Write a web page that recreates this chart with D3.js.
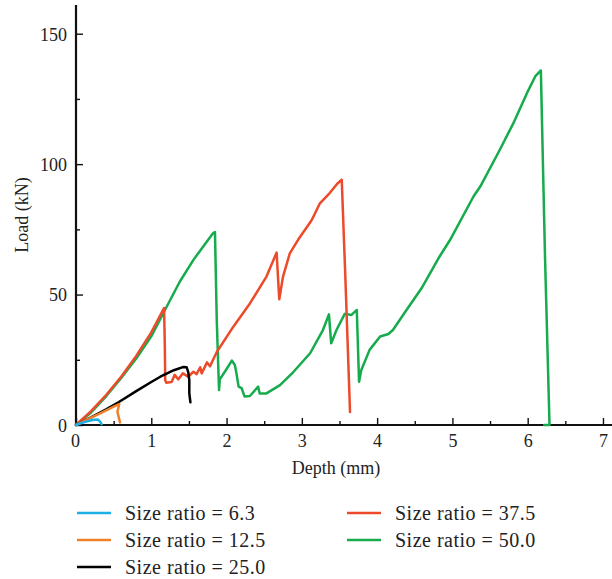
<!DOCTYPE html>
<html><head>
<meta charset="utf-8">
<script src="https://d3js.org/d3.v7.min.js"></script>
<style>
  body { margin: 0; background: #fff; }
  text { font-family: "Liberation Serif", "DejaVu Serif", serif; fill: #222; }
</style>
</head>
<body>
<script>

  // series, [depth mm, load kN]
  var ratio63 = [[0,0],[0.08,0.8],[0.16,1.5],[0.24,2.0],[0.29,2.1],[0.32,1.3],[0.34,0.3]];
  var ratio125 = [[0,0],[0.1,1.4],[0.2,2.8],[0.3,4.2],[0.4,5.6],[0.5,7.0],[0.575,8.0],[0.55,5.1],[0.584,1.0]];
  var ratio250 = [[0,0],[0.2,2.9],[0.4,6.0],[0.57,8.8],[0.8,13],[1.0,16.5],[1.12,18.5],[1.3,21],[1.42,22.2],[1.47,22.1],
                  [1.49,20.4],[1.505,17.2],[1.505,12.1],[1.52,8.7]];
  var ratio375 = [[0,0],[0.2,5.3],[0.4,11.5],[0.6,18.5],[0.8,26.5],[1.0,35.5],[1.17,44.8],[1.18,30],[1.185,17.2],[1.2,16.2],
                  [1.27,16.5],[1.31,19.2],[1.36,17.5],[1.42,19.8],[1.49,18.5],[1.56,20.4],[1.60,19.5],[1.65,22.1],[1.67,19.8],
                  [1.74,24],[1.78,22.5],[1.87,28],[2.09,37.7],[2.31,46.6],[2.53,56.9],[2.665,66.1],[2.70,48.2],[2.75,56.9],
                  [2.84,65.8],[2.95,71],[3.13,78.5],[3.24,85],[3.37,88.9],[3.47,92.5],[3.53,94],[3.58,55],[3.64,5]];
  var ratio500 = [[0,0],[0.2,4.8],[0.4,11],[0.6,18],[0.8,25.5],[1.0,34],[1.18,44],[1.38,55],[1.56,63.3],[1.69,68.4],
                  [1.82,73.5],[1.846,74],[1.87,40],[1.90,13.4],[1.91,17.5],[1.99,21],[2.07,24.7],[2.11,23],[2.13,20],
                  [2.16,14.7],[2.20,14.1],[2.24,10.9],[2.31,11.1],[2.42,14.7],[2.44,12.1],[2.53,12.1],[2.71,15.3],
                  [2.89,20.4],[3.11,27.5],[3.28,36.4],[3.36,42.4],[3.39,31.3],[3.46,36.4],[3.57,42.6],[3.66,42.2],
                  [3.73,44.1],[3.76,16.6],[3.79,21.1],[3.90,28.8],[4.04,33.9],[4.15,34.9],[4.21,36.4],[4.39,44.1],
                  [4.59,52.4],[4.83,64.6],[4.97,71],[5.28,87.6],[5.37,91.4],[5.63,105.5],[5.81,115.7],[5.99,127.2],
                  [6.10,133.6],[6.175,135.9],[6.23,64.6],[6.29,0],[6.22,0]];

  var seriesNames = ["Size ratio = 6.3","Size ratio = 12.5","Size ratio = 25.0","Size ratio = 37.5","Size ratio = 50.0"];
  var seriesData = [ratio63, ratio125, ratio250, ratio375, ratio500];
  var colors = ["#1bb0e6","#f07f2a","#000000","#ec4a2a","#16ab4c"];
  var xTicks = [0,1,2,3,4,5,6,7];
  var yTicks = [0,50,100,150];

  let width = 612, height = 579;
  let svg = d3.select("body").append("svg").attr("width", width).attr("height", height);

  let xScale = d3.scaleLinear().domain([0,7.12]).range([76,612]);
  let yScale = d3.scaleLinear().domain([0,161]).range([425,5]);

  // minor ticks first (inside), then major ticks with labels
  let xAxisMinor = d3.axisTop(xScale).tickValues(d3.range(0.5,7.1,1)).tickSize(4).tickFormat("");
  let yAxisMinor = d3.axisRight(yScale).tickValues([25,75,125]).tickSize(4).tickFormat("");
  svg.append("g").attr("transform","translate(0,425)").call(xAxisMinor);
  svg.append("g").attr("transform","translate(76,0)").call(yAxisMinor);

  let xAxis = d3.axisTop(xScale).tickValues(xTicks).tickSize(7).tickFormat(d3.format("d"));
  let yAxis = d3.axisRight(yScale).tickValues(yTicks).tickSize(7).tickFormat(d3.format("d"));
  let gx = svg.append("g").attr("transform","translate(0,425)").call(xAxis);
  let gy = svg.append("g").attr("transform","translate(76,0)").call(yAxis);

  gx.selectAll("text").attr("y", 22).attr("dy", 0).style("font-size","18px")
    .style("font-family","Liberation Serif, serif").attr("text-anchor","middle").attr("fill","#222");
  gx.selectAll(".tick").filter(d => d === 0).select("text").attr("dx", -1);
  gy.selectAll("text").attr("x", -9).attr("dy","0.35em").style("font-size","18px")
    .style("font-family","Liberation Serif, serif").attr("text-anchor","end").attr("fill","#222");

  svg.selectAll(".tick line").attr("stroke","#111").attr("stroke-width",1.4);
  svg.selectAll(".domain").attr("stroke","none");

  // axis lines
  svg.append("line").attr("x1",76).attr("x2",612).attr("y1",425).attr("y2",425).attr("stroke","#111").attr("stroke-width",2.2);
  svg.append("line").attr("x1",76).attr("x2",76).attr("y1",425).attr("y2",5).attr("stroke","#111").attr("stroke-width",2.2);

  // axis titles
  svg.append("text").attr("x",336).attr("y",474).attr("text-anchor","middle").style("font-size","18px").text("Depth (mm)");
  svg.append("text").attr("transform","translate(28,215) rotate(-90)").attr("text-anchor","middle")
    .style("font-size","18px").text("Load (kN)");

  // curves, green underneath
  let line = d3.line().x(d => xScale(d[0])).y(d => yScale(d[1]));
  [4,3,2,1,0].forEach(function(i) {
    svg.append("path").datum(seriesData[i]).attr("d", line)
      .attr("fill","none").attr("stroke", colors[i]).attr("stroke-width",2.5)
      .attr("stroke-linejoin","round").attr("stroke-linecap","round");
  });

  // legend
  let legendPos = [[77,513],[77,540],[77,567],[347,513],[347,540]];
  seriesNames.forEach(function(name, i) {
    let p = legendPos[i];
    svg.append("line").attr("x1",p[0]).attr("x2",p[0]+34).attr("y1",p[1]).attr("y2",p[1])
      .attr("stroke",colors[i]).attr("stroke-width",2.5);
    svg.append("text").attr("x",p[0]+48).attr("y",p[1]).attr("dy","0.35em")
      .style("font-size","20px").style("letter-spacing","0.5px").text(name);
  });

</script>
</body>
</html>
